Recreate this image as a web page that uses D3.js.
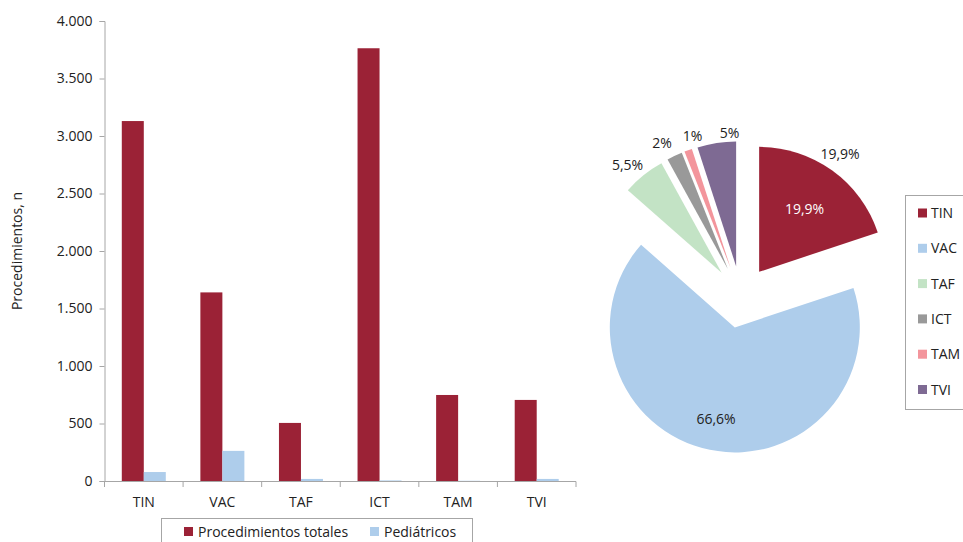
<!DOCTYPE html>
<html>
<head>
<meta charset="utf-8">
<script src="https://cdn.jsdelivr.net/npm/d3@7"></script>
<style>
body { margin: 0; background: #fff; }
text { font-family: "Open Sans", "Noto Sans", sans-serif; fill: #222; }
</style>
</head>
<body>
<svg width="963" height="542"></svg>
<script>
// data
const categories = ['TIN', 'VAC', 'TAF', 'ICT', 'TAM', 'TVI'];
const totales = [3130, 1640, 505, 3763, 748, 705];
const pediatricos = [78, 262, 18, 5, 2, 18];
const yTicks = [0, 500, 1000, 1500, 2000, 2500, 3000, 3500, 4000];
const piePct = [19.9, 66.6, 5.5, 2, 1, 5];
const pieLabels = ['19,9%', '66,6%', '5,5%', '2%', '1%', '5%'];

const barColors = ['#9b2236', '#aecdeb'];
const pieColors = ['#9b2236', '#aecdeb', '#c3e3c5', '#999999', '#f3959c', '#7e6a93'];

const svg = d3.select('svg');

// ---- bar chart
const x = d3.scaleBand().domain(categories).range([104.5, 576]);
const y = d3.scaleLinear().domain([0, 4000]).range([481, 21]);
const bw = 22;

const fmt = v => d3.format(',')(v).replace(/,/g, '.');

const yAxis = svg.append('g')
    .attr('transform', 'translate(104.5,0)')
    .call(d3.axisLeft(y).tickValues(yTicks).tickSize(5).tickFormat(fmt));
yAxis.select('.domain').attr('stroke', '#a6a6a6');
yAxis.selectAll('.tick line').attr('stroke', '#a6a6a6');
yAxis.selectAll('.tick text').attr('x', -12).attr('font-size', 14)
    .attr('font-family', '"Open Sans", sans-serif').attr('fill', '#222');

svg.append('text')
    .attr('transform', 'translate(22,251) rotate(-90)')
    .attr('text-anchor', 'middle')
    .attr('font-size', 14)
    .text('Procedimientos, n');

const groups = svg.append('g').selectAll('g')
    .data(categories)
    .enter()
    .append('g')
    .attr('transform', d => 'translate(' + (x(d) + x.bandwidth() / 2 - bw) + ',0)');

groups.append('rect')
    .attr('x', 0)
    .attr('y', (d, i) => y(totales[i]))
    .attr('width', bw)
    .attr('height', (d, i) => y(0) - y(totales[i]))
    .attr('fill', barColors[0]);

groups.append('rect')
    .attr('x', bw)
    .attr('y', (d, i) => y(pediatricos[i]))
    .attr('width', bw)
    .attr('height', (d, i) => y(0) - y(pediatricos[i]))
    .attr('fill', barColors[1]);

// x axis with ticks at band edges
const xg = svg.append('g');
xg.append('line')
    .attr('x1', x.range()[0]).attr('x2', x.range()[1])
    .attr('y1', 481.5).attr('y2', 481.5)
    .attr('stroke', '#a6a6a6');
xg.selectAll('line.tk')
    .data(categories.concat(['end']))
    .enter()
    .append('line')
    .attr('class', 'tk')
    .attr('x1', (d, i) => x.range()[0] + i * x.step())
    .attr('x2', (d, i) => x.range()[0] + i * x.step())
    .attr('y1', 481.5).attr('y2', 487)
    .attr('stroke', '#a6a6a6');
xg.selectAll('text')
    .data(categories)
    .enter()
    .append('text')
    .attr('x', d => x(d) + x.bandwidth() / 2)
    .attr('y', 507)
    .attr('text-anchor', 'middle')
    .attr('font-size', 14)
    .text(d => d);

// bar legend
svg.append('rect')
    .attr('x', 161.5).attr('y', 518.5)
    .attr('width', 311).attr('height', 40)
    .attr('fill', 'none').attr('stroke', '#a6a6a6');
const legItems = [['Procedimientos totales', 184], ['Pediátricos', 370]];
legItems.forEach((it, i) => {
    svg.append('rect').attr('x', it[1]).attr('y', 527).attr('width', 9).attr('height', 9)
        .attr('fill', barColors[i]);
    svg.append('text').attr('x', it[1] + 14).attr('y', 536.5)
        .attr('font-size', 14).text(it[0]);
});

// ---- pie chart
const cx = 741, cy = 297, r = 125, explode = 31;
const pie = d3.pie().sort(null).value(d => d);
const arcs = pie(piePct);
const arc = d3.arc().innerRadius(0).outerRadius(r);

const pg = svg.append('g').attr('transform', 'translate(' + cx + ',' + cy + ')');
pg.selectAll('path')
    .data(arcs)
    .enter()
    .append('path')
    .attr('d', arc)
    .attr('fill', (d, i) => pieColors[i])
    .attr('transform', d => {
        const a = (d.startAngle + d.endAngle) / 2;
        return 'translate(' + (Math.sin(a) * explode) + ',' + (-Math.cos(a) * explode) + ')';
    });

// inside labels for the two large slices
const inside = [[0, '#ffffff', 0.62], [1, '#222', 0.75]];
inside.forEach(l => {
    const d = arcs[l[0]];
    const a = (d.startAngle + d.endAngle) / 2;
    const rr = explode + r * l[2];
    pg.append('text')
        .attr('x', Math.sin(a) * rr)
        .attr('y', -Math.cos(a) * rr + 5)
        .attr('text-anchor', 'middle')
        .attr('font-size', 14)
        .attr('fill', l[1])
        .style('fill', l[1])
        .text(pieLabels[l[0]]);
});

// outside labels: [slice, label radius, angle nudge in degrees]
const outside = [[0, 175, 0], [2, 174, -2], [3, 173, -2], [4, 168, 3], [5, 164, 5]];
outside.forEach(l => {
    const d = arcs[l[0]];
    const a = (d.startAngle + d.endAngle) / 2 + l[2] * Math.PI / 180;
    let px = Math.sin(a) * l[1], py = -Math.cos(a) * l[1];
    if (l[0] === 0) { px = 99; py = -143; }
    pg.append('text')
        .attr('x', px)
        .attr('y', py + 5)
        .attr('text-anchor', 'middle')
        .attr('font-size', 14)
        .text(pieLabels[l[0]]);
});

// pie legend
svg.append('rect')
    .attr('x', 905.5).attr('y', 195.5)
    .attr('width', 80).attr('height', 214)
    .attr('fill', 'none').attr('stroke', '#a6a6a6');
categories.forEach((c, i) => {
    const yy = 213 + i * 35.3;
    svg.append('rect').attr('x', 918).attr('y', yy - 4.5).attr('width', 9).attr('height', 9)
        .attr('fill', pieColors[i]);
    svg.append('text').attr('x', 931).attr('y', yy + 5)
        .attr('font-size', 14).text(c);
});
</script>
</body>
</html>
